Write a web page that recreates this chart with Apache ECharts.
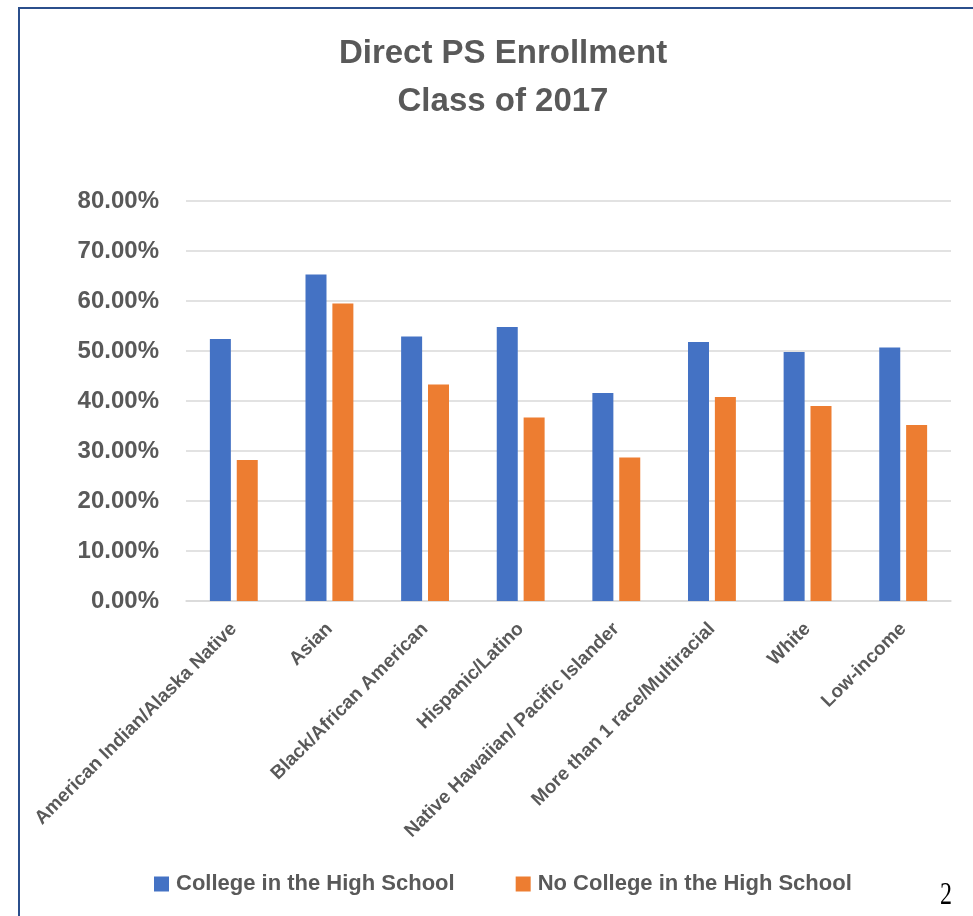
<!DOCTYPE html>
<html>
<head>
<meta charset="utf-8">
<script src="https://cdn.jsdelivr.net/npm/echarts@6/dist/echarts.min.js"></script>
<style>
html,body{margin:0;padding:0;background:#fff;}
#chart{width:973px;height:916px;}
</style>
</head>
<body>
<div id="chart"></div>
<script>
const categories = [
  "American Indian/Alaska Native",
  "Asian",
  "Black/African American",
  "Hispanic/Latino",
  "Native Hawaiian/ Pacific Islander",
  "More than 1 race/Multiracial",
  "White",
  "Low-income"
];
const collegeInHS = [0.524, 0.653, 0.529, 0.548, 0.416, 0.518, 0.498, 0.507];
const noCollegeInHS = [0.282, 0.595, 0.433, 0.367, 0.287, 0.408, 0.390, 0.352];
const seriesNames = ["College in the High School", "No College in the High School"];
const titleText = "Direct PS Enrollment\nClass of 2017";
const yTicks = { min: 0, max: 0.8, interval: 0.1 };

const FONT = "'Liberation Sans', Arial, sans-serif";
const GREY = "#595959";

const chart = echarts.init(document.getElementById('chart'), null, {renderer: 'canvas'});
chart.setOption({
  backgroundColor: '#ffffff',
  animation: false,
  title: {
    text: titleText,
    left: 498,
    top: 25,
    textAlign: 'center',
    textStyle: {
      fontFamily: FONT, fontSize: 33, fontWeight: 'bold', color: GREY, lineHeight: 48
    }
  },
  legend: {
    data: seriesNames,
    left: 149,
    top: 868,
    itemWidth: 15,
    itemHeight: 15,
    itemGap: 61,
    icon: 'rect',
    textStyle: { fontFamily: FONT, fontSize: 22, fontWeight: 'bold', color: GREY, padding: [0,0,0,2] }
  },
  grid: { left: 186, right: 22, top: 201, bottom: 315, containLabel: false },
  xAxis: {
    type: 'category',
    data: categories,
    axisTick: { show: false },
    axisLine: { lineStyle: { color: '#D9D9D9', width: 1.5 } },
    axisLabel: {
      interval: 0, rotate: 45, margin: 25,
      fontFamily: FONT, fontSize: 19, fontWeight: 'bold', color: GREY
    }
  },
  yAxis: {
    type: 'value',
    min: yTicks.min, max: yTicks.max, interval: yTicks.interval,
    axisLine: { show: false },
    axisTick: { show: false },
    splitLine: { lineStyle: { color: '#D9D9D9', width: 1.5 } },
    axisLabel: {
      margin: 27,
      fontFamily: FONT, fontSize: 24, fontWeight: 'bold', color: GREY,
      formatter: v => (v * 100).toFixed(2) + '%'
    }
  },
  series: [
    { name: seriesNames[0], type: 'bar', data: collegeInHS, barWidth: 21, barGap: '28%',
      itemStyle: { color: '#4472C4' } },
    { name: seriesNames[1], type: 'bar', data: noCollegeInHS, barWidth: 21, barGap: '28%',
      itemStyle: { color: '#ED7D31' } }
  ],
  graphic: [
    { type: 'rect', shape: { x: 19, y: 8, width: 1000, height: 1000 },
      style: { fill: 'none', stroke: '#2B4F8C', lineWidth: 2 }, silent: true, z: 100 },
    { type: 'text', x: 946, y: 895, scaleY: 1.35,
      style: { text: '2', font: "24px 'Liberation Serif', 'Times New Roman', serif",
               fill: '#000', align: 'center', verticalAlign: 'middle' }, z: 100 }
  ]
});
</script>
</body>
</html>
